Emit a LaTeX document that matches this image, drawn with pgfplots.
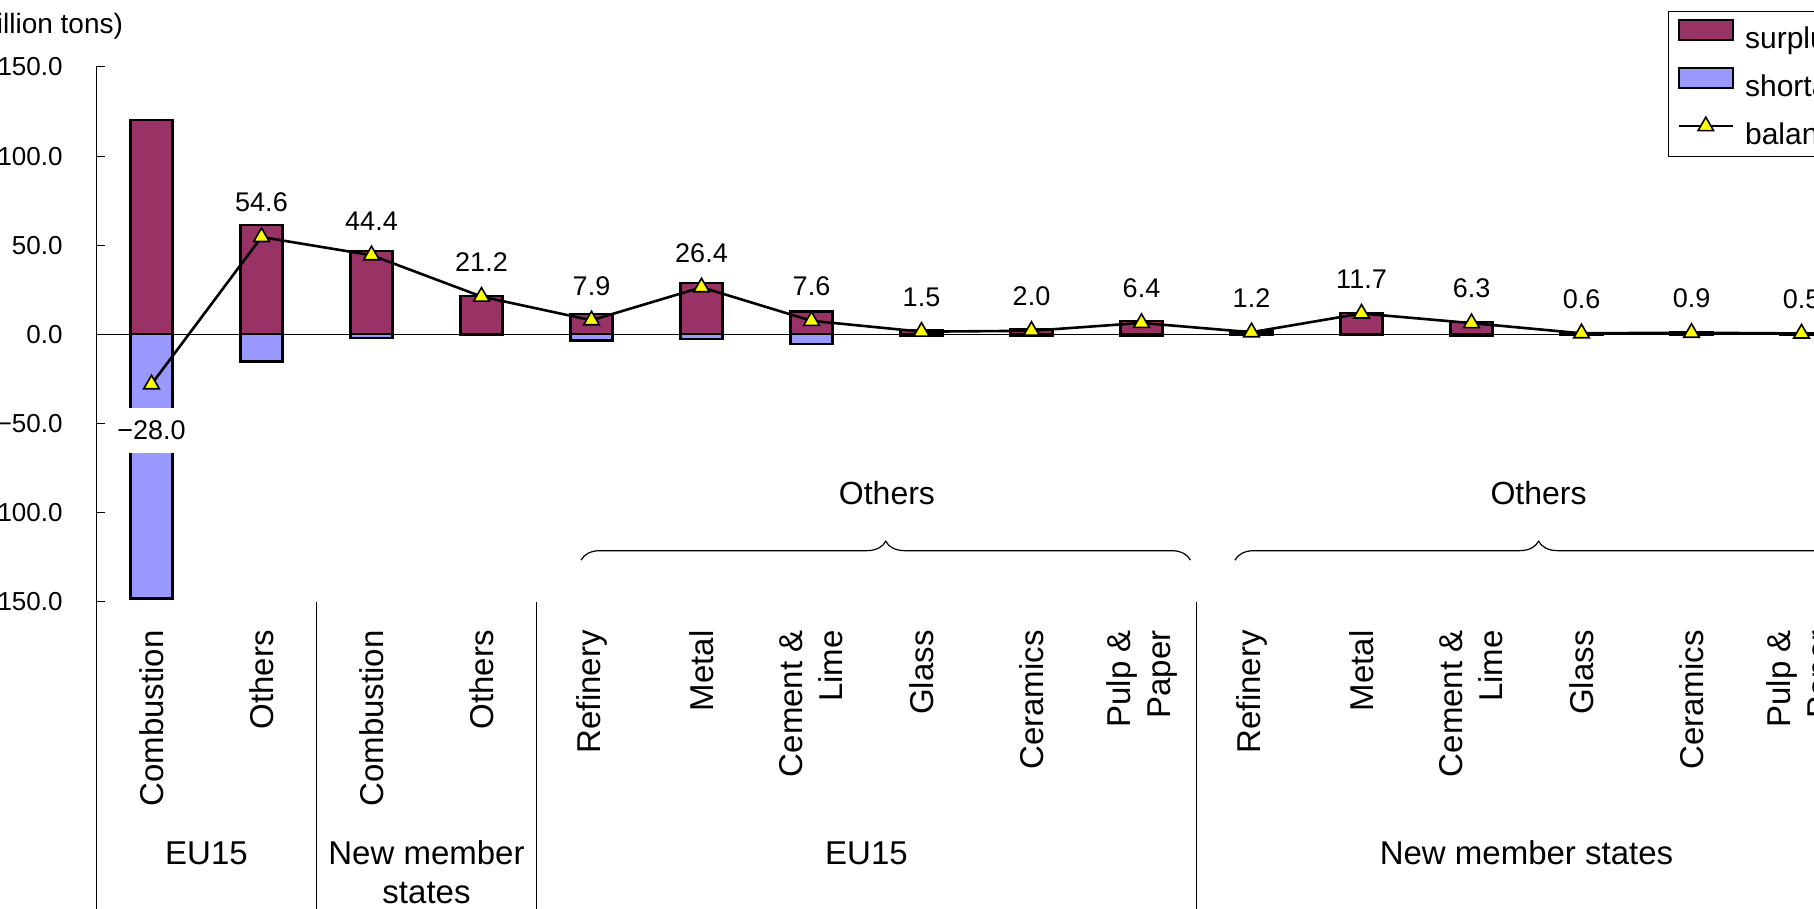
\documentclass[border=0pt]{standalone}
\usepackage{fontspec}
\setmainfont{Liberation Sans}
\usepackage{pgfplots}
\usepackage{pgfplotstable}
\pgfplotsset{compat=1.18}
\usetikzlibrary{decorations.pathreplacing}
\definecolor{surpluscol}{HTML}{993366}
\definecolor{shortagecol}{HTML}{9999FF}
\definecolor{markyellow}{HTML}{FFFF00}

\pgfplotstableread{
x surplus shortage balance
0 120.2 -148.2 -28.0
1 61.2 -15.2 54.6
2 46.6 -2.2 44.4
3 21.5 -0.3 21.2
4 11.3 -3.4 7.9
5 29.0 -2.6 26.4
6 12.9 -5.3 7.6
7 2.3 -0.8 1.5
8 2.8 -0.8 2.0
9 7.4 -1.0 6.4
10 1.6 -0.4 1.2
11 12.0 -0.3 11.7
12 7.1 -0.8 6.3
13 0.8 -0.2 0.6
14 1.1 -0.2 0.9
15 0.8 -0.3 0.5
}\datatable

\newcommand\numfont{\fontsize{13}{15}\selectfont}
\newcommand\labfont{\fontsize{13.5}{16}\selectfont}

\begin{document}
\begin{tikzpicture}
\useasboundingbox (-48.25pt,-153.65pt) rectangle (858.75pt,300.85pt);
\clip (-48.25pt,-153.65pt) rectangle (858.75pt,300.85pt);
\begin{axis}[
  at={(0,0)}, anchor=south west,
  scale only axis, width=880pt, height=267.35pt,
  xmin=-0.5, xmax=15.5, ymin=-150, ymax=150,
  clip=false,
  axis y line*=left,
  axis x line*=bottom,
  x axis line style={draw=none},
  y axis line style={line width=0.5pt, black},
  xtick={0,...,15},
  xticklabels={Combustion, Others, Combustion, Others, Refinery, Metal, {Cement \&\\Lime}, Glass, Ceramics, {Pulp \&\\Paper}, Refinery, Metal, {Cement \&\\Lime}, Glass, Ceramics, {Pulp \&\\Paper}},
  xtick style={draw=none},
  xticklabel style={yshift=-14.15pt, rotate=90, anchor=east, inner sep=0pt, align=right, font=\fontsize{16.5}{20}\selectfont},
  ytick={-150,-100,...,150},
  yticklabels={−150.0,−100.0,−50.0,0.0,50.0,100.0,150.0},
  ytick style={line width=0.5pt, black},
  tick align=inside,
  major tick length=4.5pt,
  yticklabel style={font=\numfont, inner sep=0pt, xshift=-16.75pt, anchor=east},
  legend style={at={(0.8929,1.1052)}, anchor=north west, draw=black, line width=0.5pt,
    font=\fontsize{15}{18}\selectfont, inner xsep=4.5pt, inner ysep=2.5pt, row sep=4.6pt, column sep=3.5pt},
  legend cell align=left,
]
\draw[line width=0.5pt] (axis cs:-0.5,0) -- (axis cs:15.5,0);

\addplot[ybar, bar width=21pt, bar shift=0pt, fill=surpluscol, draw=black, line width=1.15pt,
  legend image code/.code={\draw[fill=surpluscol, draw=black, line width=1.15pt] (0pt,-2pt) rectangle (27pt,8pt);}]
  table[x=x, y=surplus] {\datatable};
\addlegendentry{\rule{0pt}{14pt}surplus}

\addplot[ybar, bar width=21pt, bar shift=0pt, fill=shortagecol, draw=black, line width=1.15pt,
  legend image code/.code={\draw[fill=shortagecol, draw=black, line width=1.15pt] (0pt,-2pt) rectangle (27pt,8pt);}]
  table[x=x, y=shortage] {\datatable};
\addlegendentry{\rule{0pt}{14pt}shortage}

\addplot[black, line width=1.3pt, mark=triangle*, mark size=4.5pt,
  mark options={fill=markyellow, draw=black, line width=0.8pt, solid},
  legend image code/.code={\draw[black, line width=1.3pt, mark repeat=2, mark phase=2, mark=triangle*, mark size=4.5pt, mark options={fill=markyellow, draw=black, line width=0.8pt}] plot coordinates {(0pt,3pt) (13.5pt,3pt) (27pt,3pt)};}]
  table[x=x, y=balance] {\datatable};
\addlegendentry{\rule{0pt}{14pt}balance}

\addplot[draw=none, mark=none, forget plot, point meta=explicit symbolic,
  nodes near coords={\labfont\pgfplotspointmeta},
  every node near coord/.append style={anchor=center, yshift=17.25pt, inner sep=0pt, text=black}]
  coordinates {(1,54.6)[54.6] (2,44.4)[44.4] (3,21.2)[21.2] (4,7.9)[7.9] (5,26.4)[26.4] (6,7.6)[7.6] (7,1.5)[1.5] (8,2.0)[2.0] (9,6.4)[6.4] (10,1.2)[1.2] (11,11.7)[11.7] (12,6.3)[6.3] (13,0.6)[0.6] (14,0.9)[0.9] (15,0.5)[0.5]};

\addplot[draw=none, mark=none, forget plot, point meta=explicit symbolic,
  nodes near coords={\labfont\pgfplotspointmeta},
  every node near coord/.append style={anchor=center, yshift=-23pt, fill=white, inner xsep=2pt, inner ysep=6.5pt, text=black}]
  coordinates {(0,-28.0)[−28.0]};

\draw[line width=0.5pt] (axis cs:-0.5,-150) -- (axis cs:-0.5,-330);
\draw[line width=0.5pt] (axis cs:1.5,-150) -- (axis cs:1.5,-330);
\draw[line width=0.5pt] (axis cs:3.5,-150) -- (axis cs:3.5,-330);
\draw[line width=0.5pt] (axis cs:9.5,-150) -- (axis cs:9.5,-330);

\draw[decorate, decoration={brace, amplitude=9.5pt}, line width=0.6pt] (axis cs:3.905,-126.7) -- (axis cs:9.445,-126.7);
\draw[decorate, decoration={brace, amplitude=9.5pt}, line width=0.6pt] (axis cs:9.85,-126.7) -- (axis cs:15.37,-126.7);
\node[font=\fontsize{16}{19}\selectfont] at (axis cs:6.686,-89) {Others};
\node[font=\fontsize{16}{19}\selectfont] at (axis cs:12.61,-89) {Others};

\node[font=\fontsize{16.5}{19.5}\selectfont] at (axis cs:0.5,-291.1) {EU15};
\node[font=\fontsize{16.5}{19.5}\selectfont, align=center] at (axis cs:2.5,-302.0) {New member\\states};
\node[font=\fontsize{16.5}{19.5}\selectfont] at (axis cs:6.5,-291.1) {EU15};
\node[font=\fontsize{16.5}{19.5}\selectfont] at (axis cs:12.5,-291.1) {New member states};

\node[anchor=east, font=\fontsize{14}{16}\selectfont] at (axis cs:-0.195,172.9) {(million tons)};
\end{axis}
\end{tikzpicture}
\end{document}
